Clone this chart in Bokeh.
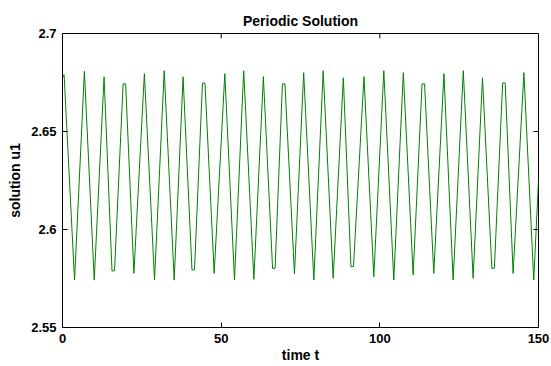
import math
from bokeh.plotting import figure
from bokeh.models import FixedTicker, Range1d
from bokeh.embed import file_html
from bokeh.resources import INLINE

# vertices of the periodic solution (time t, solution u1)
t_vals = [0.0, 0.5, 3.8, 6.9, 10.0, 13.1, 15.6, 16.4, 19.1, 19.9, 22.5, 25.8, 29.0, 32.05,
          35.2, 38.0, 40.8, 41.6, 44.1, 44.9, 47.8, 51.15, 54.2, 57.1, 60.3, 63.3, 66.2, 67.0,
          69.3, 70.1, 73.1, 76.0, 79.2, 82.15, 85.3, 88.5, 90.9, 91.7, 95.0, 98.1, 101.25,
          104.4, 107.4, 110.5, 113.3, 114.1, 117.0, 120.2, 123.1, 126.3, 129.4, 132.35,
          135.3, 136.1, 138.7, 139.5, 142.0, 145.4, 148.5, 150.0]
u_vals = [2.6775, 2.6790, 2.5742, 2.6807, 2.5742, 2.6779, 2.5788, 2.5790, 2.6743, 2.6743,
          2.5776, 2.6795, 2.5742, 2.6810, 2.5742, 2.6779, 2.5793, 2.5795, 2.6747, 2.6747,
          2.5776, 2.6795, 2.5742, 2.6810, 2.5746, 2.6780, 2.5801, 2.5803, 2.6743, 2.6743,
          2.5773, 2.6800, 2.5742, 2.6810, 2.5751, 2.6774, 2.5809, 2.5811, 2.6780, 2.5759,
          2.6810, 2.5742, 2.6800, 2.5768, 2.6743, 2.6743, 2.5776, 2.6795, 2.5742, 2.6810,
          2.5751, 2.6774, 2.5801, 2.5803, 2.6748, 2.6748, 2.5776, 2.6800, 2.5742, 2.6250]

x_min, x_max = 0, 150
y_min, y_max = 2.55, 2.7
x_ticks = [0, 50, 100, 150]
x_tick_labels = ["0", "50", "100", "150"]
y_ticks = [2.55, 2.6, 2.65, 2.7]
y_tick_labels = ["2.55", "2.6", "2.65", "2.7"]

FONT = "Liberation Sans"

p = figure(width=551, height=366, output_backend="svg", toolbar_location=None,
           x_range=Range1d(x_min, x_max), y_range=Range1d(y_min, y_max),
           title="Periodic Solution",
           min_border_left=62, min_border_right=13, min_border_top=33, min_border_bottom=39)

p.title.align = "center"
p.title.text_font = FONT
p.title.text_font_size = "14px"
p.title.text_font_style = "bold"
p.title.text_color = "black"
p.title.offset = 0

p.line(t_vals, u_vals, line_color="#008000", line_width=1)

# inward ticks on the top and right edges of the box
p.ray(x=x_ticks, y=[y_max] * len(x_ticks), length=5, length_units="screen",
      angle=-math.pi / 2, line_color="black", line_width=1)
p.ray(x=[x_max] * len(y_ticks), y=y_ticks, length=5, length_units="screen",
      angle=math.pi, line_color="black", line_width=1)

p.xgrid.visible = False
p.ygrid.visible = False
p.outline_line_color = "black"
p.outline_line_width = 1
p.background_fill_color = "white"
p.border_fill_color = "white"


def style_axis(ax, ticks, labels):
    ax.ticker = FixedTicker(ticks=ticks)
    ax.major_label_overrides = {t: l for t, l in zip(ticks, labels)}
    ax.major_tick_in = 5
    ax.major_tick_out = 0
    ax.minor_tick_in = 0
    ax.minor_tick_out = 0
    ax.axis_line_color = "black"
    ax.major_tick_line_color = "black"
    ax.major_label_text_font = FONT
    ax.major_label_text_font_style = "bold"
    ax.major_label_text_color = "black"
    ax.major_label_text_font_size = "13px"
    ax.axis_label_text_font = FONT
    ax.axis_label_text_font_style = "bold"
    ax.axis_label_text_font_size = "14px"
    ax.axis_label_text_color = "black"


xa = p.xaxis[0]
style_axis(xa, x_ticks, x_tick_labels)
xa.axis_label = "time t"
xa.axis_label_standoff = 1
xa.major_label_standoff = 6

ya = p.yaxis[0]
style_axis(ya, y_ticks, y_tick_labels)
ya.axis_label = "solution u1"
ya.axis_label_standoff = 5
ya.major_label_standoff = 6

open("out.html", "w").write(file_html(p, INLINE))
